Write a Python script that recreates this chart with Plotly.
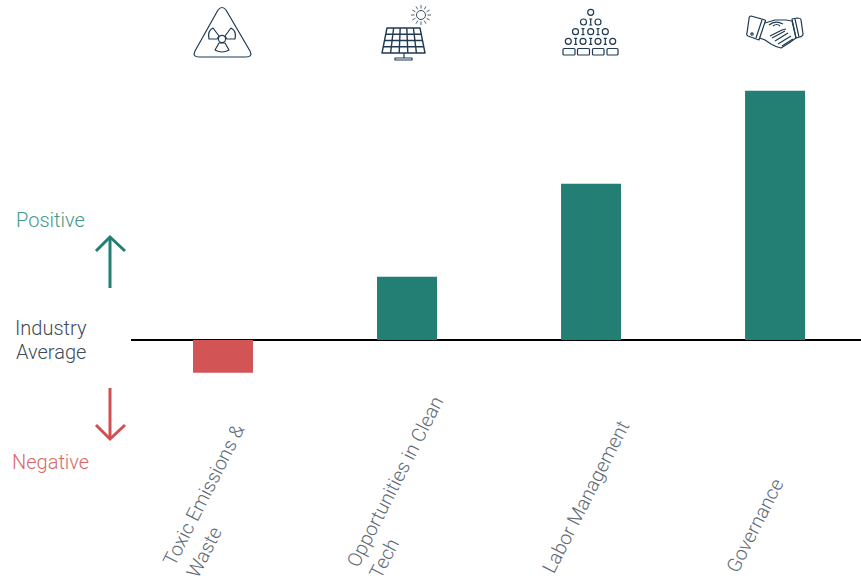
import base64
import math
import plotly.graph_objects as go

categories = ["Toxic Emissions &", "Opportunities in Clean", "Labor Management", "Governance"]
second_lines = ["Waste", "Tech", "", ""]
values = [-0.53, 1.02, 2.52, 4.02]
bar_colors = ["#D25454", "#237F73", "#237F73", "#237F73"]
label_centers = [(203.5, 495), (394.5, 482), (585.5, 497), (755, 525.5)]
second_centers = [(204, 552), (384, 558), None, None]

W, H = 861, 581
NAVY = "#1F3A52"


def px(x):
    return x / W


def py(y):
    return 1 - y / H


parts = []
# radiation icon
parts.append('<path d="M218 10 Q222 5 226 10 L250 51 Q253 57 246 57 L199 57 Q192 57 195 51 Z"/>')
parts.append('<circle cx="222" cy="39" r="3.6"/>')
parts.append('<path d="M219 36 L213 28 Q207 31 209 39 L217 39 Z M225 36 L231 28 Q237 31 235 39 L227 39 Z M219 43 L215 50 Q222 54 229 50 L225 43 Z"/>')
# solar icon
parts.append('<path stroke-width="1.4" d="M387 28 L420 28 L425 53 L382 53 Z"/>')
for t in (0.25, 0.5, 0.75):
    y = 28 + 25 * t
    parts.append(f'<path stroke-width="1.4" d="M{387 - 5 * t} {y} L{420 + 5 * t} {y}"/>')
for t in (0.2, 0.4, 0.6, 0.8):
    parts.append(f'<path stroke-width="1.4" d="M{387 + 33 * t} 28 L{382 + 43 * t} 53"/>')
parts.append('<path d="M404 53 L404 58 L395 58 L395 60 L412 60 L412 58 L403 58 M404 53 L404 58"/>')
parts.append('<circle cx="421" cy="15" r="4.5" stroke-width="0.9"/>')
for k in range(12):
    a = k * math.pi / 6
    parts.append(f'<path stroke-width="0.8" d="M{421 + 6.5 * math.cos(a):.2f} {15 + 6.5 * math.sin(a):.2f} '
                 f'L{421 + 10 * math.cos(a):.2f} {15 + 10 * math.sin(a):.2f}"/>')
# pyramid icon
for cx, cy in [(590.7, 12.3), (583.5, 22), (598, 22), (575.5, 31.7), (590.7, 31.7), (605.3, 31.7),
               (568.3, 41.3), (583, 41.3), (598, 41.3), (612.7, 41.3)]:
    parts.append(f'<circle cx="{cx}" cy="{cy}" r="3"/>')
for ix, iy in [(590.7, 22), (583, 31.7), (598, 31.7), (575.7, 41.3), (590.7, 41.3), (605.3, 41.3)]:
    parts.append(f'<path d="M{ix} {iy - 3} V{iy + 3} M{ix - 1.5} {iy - 3} H{ix + 1.5} M{ix - 1.5} {iy + 3} H{ix + 1.5}"/>')
for x0, x1 in [(563, 575), (577.5, 589.5), (592.5, 604), (607, 618)]:
    parts.append(f'<rect x="{x0}" y="48.5" width="{x1 - x0}" height="6.5" rx="1"/>')
# handshake icon
parts.append('<path d="M751 16 L765 20 Q766 21 765 22 L759 40 L748 36 Q746 35 747 33 L749 19 Q749 16 751 16 Z"/>')
parts.append('<circle cx="752" cy="34" r="1.2"/>')
parts.append('<path d="M762 20 L756 38 M792 19 L797 18 Q801 18 801 20 L803 34 Q803 36 800 37 L796 38 Z M795 19 L799 37"/>')
parts.append('<path d="M765 23 L775 20 L786 20 L792 21 L796 38 L789 43 L781 48 Q776 47 771 44 L765 40 L760 38"/>')
parts.append('<path d="M769 25 Q775 20 783 24 M773 26 Q777 23 780 26 M770 36 L782 30 L786 29 M772 38 L785 31 M775 41 L788 33 M778 44 L791 36 M782 46 L793 39"/>')
svg = ('<svg xmlns="http://www.w3.org/2000/svg" width="861" height="581" viewBox="0 0 861 581">'
       f'<g fill="none" stroke="{NAVY}" stroke-width="1.2" stroke-linejoin="round">' + "".join(parts) + "</g></svg>")
source = "data:image/svg+xml;base64," + base64.b64encode(svg.encode()).decode()

FONT = "Roboto, sans-serif"

fig = go.Figure(go.Bar(x=[0, 1, 2, 3], y=values, width=60 / 184, marker=dict(color=bar_colors, line_width=0),
                       hoverinfo="skip"))

annotations = []
for texts, centers in [(categories, label_centers), (second_lines, second_centers)]:
    for text, c in zip(texts, centers):
        if not text:
            continue
        annotations.append(dict(text=text, x=px(c[0]), y=py(c[1]), xref="paper", yref="paper", showarrow=False,
                                textangle=-63, xanchor="center", yanchor="middle",
                                font=dict(family=FONT, size=19.5, color="#5F6B76", weight=300)))
for text, x, y, color, weight in [("Positive", 50.5, 220, "#3F9A85", 300), ("Negative", 50.5, 462, "#D9686A", 300),
                                  ("Industry", 50.5, 328, "#3F4B57", 300), ("Average", 50.5, 352, "#3F4B57", 300)]:
    annotations.append(dict(text=text, x=px(x), y=py(y), xref="paper", yref="paper", showarrow=False,
                            xanchor="center", yanchor="middle",
                            font=dict(family=FONT, size=20, color=color, weight=weight)))

shapes = []
for color, path in [("#237F73", [(110, 288), (110, 237)]), ("#237F73", [(96, 251), (110, 237), (125, 251)]),
                    ("#D05050", [(110, 388), (110, 439)]), ("#D05050", [(96, 425), (110, 439), (125, 425)])]:
    d = "M" + " L".join(f"{px(x)} {py(y)}" for x, y in path)
    shapes.append(dict(type="path", path=d, xref="paper", yref="paper", line=dict(color=color, width=3)))

fig.update_layout(
    width=W, height=H, autosize=False, margin=dict(l=0, r=0, t=0, b=0),
    paper_bgcolor="white", plot_bgcolor="white", showlegend=False,
    xaxis=dict(domain=[131 / W, 1], range=[-0.5, 3.467], showgrid=False, showticklabels=False,
               ticks="", zeroline=False, fixedrange=True),
    yaxis=dict(domain=[0, 1], range=[-241 / 62, 340 / 62], showgrid=False, showticklabels=False,
               ticks="", zeroline=True, zerolinecolor="#000000", zerolinewidth=2, fixedrange=True),
    annotations=annotations, shapes=shapes,
    images=[dict(source=source, xref="paper", yref="paper", x=0, y=1, sizex=1, sizey=1,
                 xanchor="left", yanchor="top", sizing="stretch", layer="above")],
)
fig.write_html("out.html", config={"displayModeBar": False},
               post_script="document.body.style.margin='0';document.body.style.overflow='hidden';")
